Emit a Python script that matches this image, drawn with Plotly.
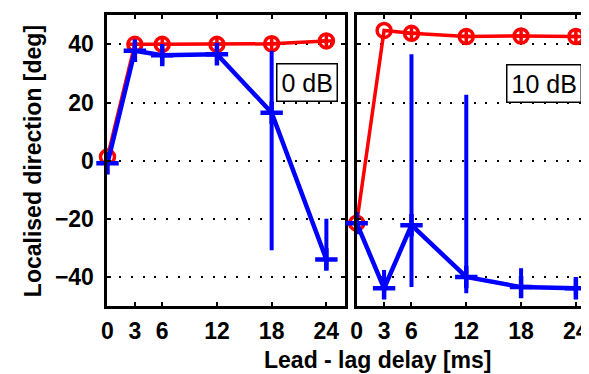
import plotly.graph_objects as go

delays = [0, 3, 6, 12, 18, 24]
tick_labels = ["0", "3", "6", "12", "18", "24"]
y_ticks = [-40, -20, 0, 20, 40]

# 0 dB panel
red_0db = [1.3, 40.0, 40.0, 40.0, 40.2, 41.2]
blue_0db = [-0.9, 37.8, 36.3, 36.6, 16.5, -34.0]
blue_0db_top = [-0.9, 39.8, 39.3, 40.6, 37.8, -20.0]
blue_0db_bot = [-0.9, 35.0, 33.1, 33.8, -30.8, -37.3]

# 10 dB panel
red_10db = [-21.5, 44.8, 43.8, 42.7, 42.9, 42.7]
blue_10db = [-21.5, -43.9, -22.2, -40.0, -43.5, -43.9]
blue_10db_top = [-21.5, -37.6, 36.6, 22.7, -37.0, -40.8]
blue_10db_bot = [-21.5, -45.6, -43.5, -45.6, -46.2, -46.2]

red_sym_0db = ["circle-open", "circle-cross-open", "circle-cross-open", "circle-cross-open", "circle-cross-open", "circle-cross-open"]
red_sym_10db = ["circle-open", "circle-open", "circle-cross-open", "circle-cross-open", "circle-cross-open", "circle-cross-open"]

RED = "#FF0000"
BLUE = "#0000FF"
FONT = "Liberation Sans, Arial, sans-serif"

# page body has an 8px margin; the figure is sized so that it fills the window
W, H = 581, 366
OFF = 8

def px_x(p):
    return (p - OFF) / W

def px_y(p):
    return (H - (p - OFF)) / H

fig = go.Figure()

def add_panel(xa, ya, red, sym, blue, top, bot):
    fig.add_trace(go.Scatter(
        x=delays, y=red, mode="lines+markers", xaxis=xa, yaxis=ya,
        line=dict(color=RED, width=3.5),
        marker=dict(symbol=sym, size=14, color=RED, line=dict(color=RED, width=3.5)),
        cliponaxis=False, showlegend=False))
    plus = [t - b for t, b in zip(top, blue)]
    minus = [b - m for b, m in zip(blue, bot)]
    fig.add_trace(go.Scatter(
        x=delays, y=blue, mode="lines+markers", xaxis=xa, yaxis=ya,
        line=dict(color=BLUE, width=4.5),
        marker=dict(symbol="cross-thin-open", size=16, color=BLUE, line=dict(color=BLUE, width=4.5)),
        error_y=dict(type="data", symmetric=False, array=plus, arrayminus=minus,
                     color=BLUE, thickness=4, width=0),
        cliponaxis=False, showlegend=False))

add_panel("x", "y", red_0db, red_sym_0db, blue_0db, blue_0db_top, blue_0db_bot)
add_panel("x2", "y2", red_10db, red_sym_10db, blue_10db, blue_10db_top, blue_10db_bot)

ydom = [px_y(306), px_y(15.3)]
common_x = dict(tickvals=delays, ticktext=tick_labels, showgrid=False, zeroline=False,
                showline=True, linecolor="black", linewidth=3, mirror="ticks",
                ticks="inside", ticklen=4, tickwidth=1.5, tickcolor="black",
                tickfont=dict(family=FONT, size=23, color="black", weight="bold"),
                ticklabelstandoff=2, ticklabeloverflow="allow")
common_y = dict(range=[-50, 50], tickvals=y_ticks, showgrid=True, gridcolor="black",
                gridwidth=2, griddash="2px,9.7px", zeroline=False,
                showline=True, linecolor="black", linewidth=3,
                ticks="inside", ticklen=4, tickwidth=1.5, tickcolor="black",
                tickfont=dict(family=FONT, size=23, color="black", weight="bold"),
                domain=ydom, ticklabelstandoff=6)

fig.update_layout(
    width=W, height=H,
    margin=dict(l=0, r=0, t=0, b=0),
    paper_bgcolor="white", plot_bgcolor="white",
    xaxis=dict(domain=[px_x(103.3), px_x(345)], range=[0, 26], anchor="y", **common_x),
    yaxis=dict(anchor="x", mirror="ticks", **common_y),
    xaxis2=dict(domain=[px_x(357.3), 1.0], range=[0, 24.89], anchor="y2", **common_x),
    yaxis2=dict(anchor="x2", mirror=False, showticklabels=False, **common_y),
    annotations=[
        dict(text="0 dB", x=21.83, y=26.9, xref="x", yref="y", showarrow=False,
             font=dict(family=FONT, size=25, color="black"),
             bordercolor="black", borderwidth=1.5, borderpad=4, bgcolor="white"),
        dict(text="10 dB", x=20.54, y=26.6, xref="x2", yref="y2", showarrow=False,
             font=dict(family=FONT, size=25, color="black"),
             bordercolor="black", borderwidth=1.5, borderpad=4, bgcolor="white"),
        dict(text="Localised direction [deg]", x=px_x(27), y=px_y(161.5),
             xref="paper", yref="paper", showarrow=False, textangle=-90,
             xanchor="center", yanchor="middle",
             font=dict(family=FONT, size=23, color="black", weight="bold")),
        dict(text="Lead - lag delay [ms]", x=px_x(379), y=px_y(360),
             xref="paper", yref="paper", showarrow=False,
             xanchor="center", yanchor="middle",
             font=dict(family=FONT, size=23, color="black", weight="bold")),
    ],
)

fig.write_html("out.html")
